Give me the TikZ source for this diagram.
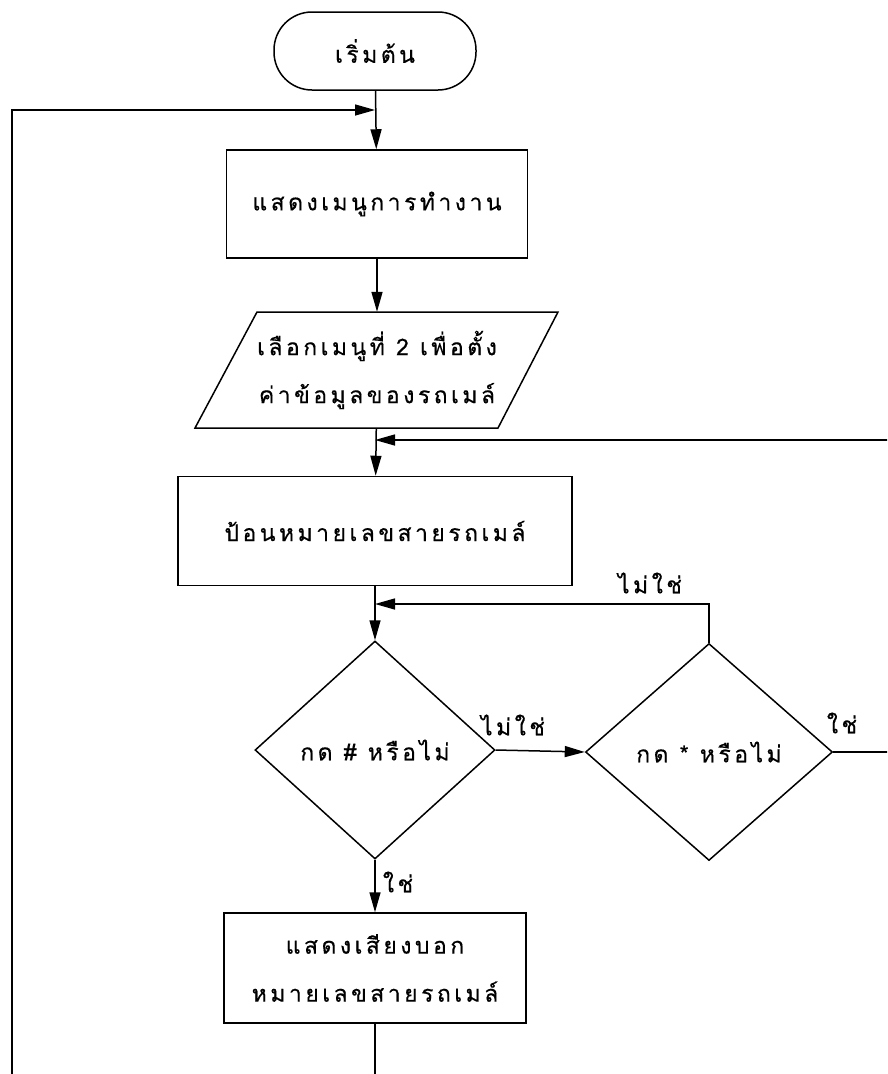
\documentclass[tikz,border=0pt]{standalone}
\usepackage{fontspec}
\usetikzlibrary{arrows.meta,shapes.geometric}
\newfontfamily\thai[Script=Thai,LetterSpace=15,FakeBold=0.4]{Loma}
\begin{document}
\begin{tikzpicture}[x=1pt,y=-1pt,
  every node/.style={font=\thai\fontsize{23}{48}\selectfont, inner sep=0pt},
  line/.style={line width=1.5pt, black},
  arrow/.style={line, -{Triangle[length=20pt,width=11pt]}},
  box/.style={line, draw, rectangle, align=center},
  terminal/.style={line, draw, rectangle, rounded corners=38pt},
  decision/.style={line, draw, diamond},
  lbl/.style={font=\thai\fontsize{23}{26}\selectfont}]
\fill[white] (0,0) rectangle (887,1074);
\useasboundingbox (0,0) rectangle (887,1074);
\begin{scope}
\clip (0,0) rectangle (887,1074);

% process steps
\node[terminal, minimum width=202pt, minimum height=78pt] (start) at (375,51) {เริ่มต้น};
\node[box, minimum width=301pt, minimum height=108pt] (menu) at (377,204) {แสดงเมนูการทำงาน};
\node[align=center, minimum width=240pt, minimum height=116pt] (choose) at (377,370)
  {เลือกเมนูที่ 2 เพื่อตั้ง\\ค่าข้อมูลของรถเมล์};
\draw[line] (195,428) -- (498,428) -- (558,312) -- (257,312) -- cycle;
\node[box, minimum width=394pt, minimum height=109pt] (input) at (375,531) {ป้อนหมายเลขสายรถเมล์};
\node[decision, minimum width=240pt, minimum height=218pt] (d1) at (375,750) {กด \# หรือไม่};
\node[decision, minimum width=247pt, minimum height=217pt] (d2) at (709,752) {กด * หรือไม่};
\node[box, minimum width=302pt, minimum height=110pt] (show) at (375,968)
  {แสดงเสียงบอก\\หมายเลขสายรถเมล์};

% loose ends of the loops
\coordinate (loopL) at (12,1080);
\coordinate (joinTop) at (375,110);
\coordinate (edgeA) at (890,440);
\coordinate (joinA) at (375,440);
\coordinate (joinB) at (375,604);
\coordinate (edgeB) at (890,752);
\coordinate (bottom) at (375,1080);

% connectors
\draw[arrow] (start) -- (menu);
\draw[arrow] (loopL) |- (joinTop);
\draw[arrow] (menu) -- (choose);
\draw[arrow] (choose) -- (input);
\draw[arrow] (edgeA) -- (joinA);
\draw[arrow] (input) -- (d1);
\draw[arrow] (d2.north) |- (joinB);
\draw[arrow] (d1.east) -- (d2.west);
\draw[line] (d2.east) -- (edgeB);
\draw[arrow] (d1.south) -- (show.north);
\draw[line] (show.south) -- (bottom);

% branch labels
\node[lbl] (noA) at (650,583) {ไม่ใช่};
\node[lbl] (noB) at (513,725) {ไม่ใช่};
\node[lbl] (yesA) at (842,723) {ใช่};
\node[lbl] (yesB) at (398,882) {ใช่};
\end{scope}
\end{tikzpicture}
\end{document}
